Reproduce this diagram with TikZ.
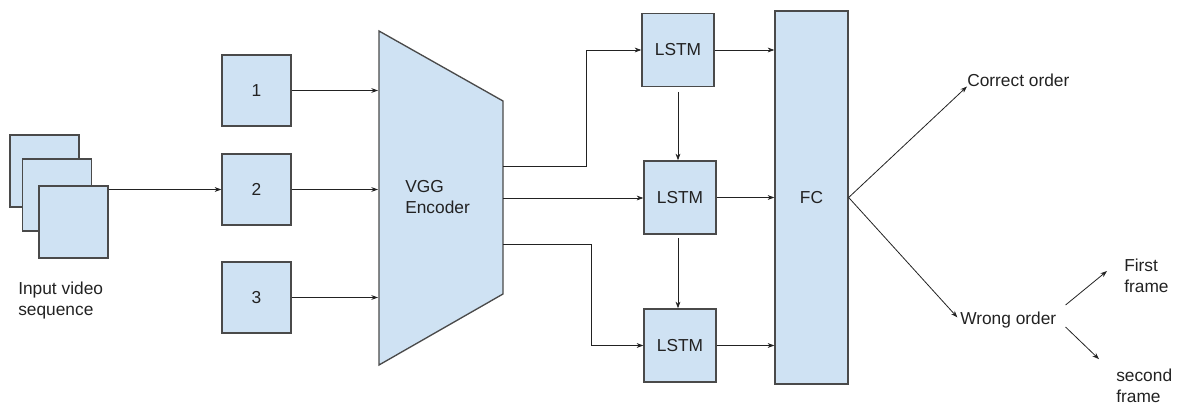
\documentclass[tikz,border=0pt]{standalone}
\usepackage{fontspec}
\setmainfont{Liberation Sans}
\usetikzlibrary{arrows.meta}
\definecolor{boxfill}{HTML}{CFE2F3}
\definecolor{boxline}{HTML}{4A4A4A}
\definecolor{ink}{HTML}{222222}
\begin{document}
\begin{tikzpicture}[x=0.75pt,y=-0.75pt,
  txt/.style={font=\fontsize{13}{15.75}\selectfont,text=ink},
  box/.style={draw=boxline,fill=boxfill,line width=1pt,inner sep=0pt,txt},
  frame/.style={box,minimum width=51.75pt,minimum height=54pt},
  numbox/.style={box,minimum width=51.75pt,minimum height=53.25pt},
  lstm/.style={box,minimum width=54pt,minimum height=54.75pt},
  lbl/.style={inner sep=0pt,align=left,txt},
  arr/.style={-{Stealth[length=5pt,width=3.6pt]},line width=0.6pt,ink},
  ln/.style={line width=0.6pt,ink}]
\useasboundingbox (0,0) rectangle (1179,410);
% input stack
\node[frame] (f1) at (44.5,171) {};
\node[frame] (f2) at (57,195) {};
\node[frame] (f3) at (73.5,222) {};
\node[lbl,anchor=north west] (inp) at (18,281.5) {Input video\\sequence};
% frames
\node[numbox] (b1) at (256.5,90.5) {1};
\node[numbox] (b2) at (256.5,189.5) {2};
\node[numbox] (b3) at (256.5,297.5) {3};
% encoder
\draw[draw=boxline,fill=boxfill,line width=1pt] (379,31) -- (503,101) -- (503,294) -- (379,365) -- cycle;
\node[lbl,anchor=west] (enc) at (405,197.5) {VGG\\Encoder};
\coordinate (encL) at (378,0);
\coordinate (o1) at (503,166);
\coordinate (o2) at (503,198);
\coordinate (o3) at (503,244);
% LSTMs and FC
\node[lstm] (l1) at (678,50) {LSTM};
\node[lstm] (l2) at (680,197.5) {LSTM};
\node[lstm] (l3) at (680,345.5) {LSTM};
\node[box,minimum width=54.75pt,minimum height=279.75pt] (fc) at (811.5,197.5) {FC};
% outputs
\node[lbl,anchor=base west] (correct) at (967,86.5) {Correct order};
\node[lbl,anchor=base west] (wrong) at (960,324.5) {Wrong order};
\node[lbl,anchor=north west] (first) at (1124,258.5) {First\\frame};
\node[lbl,anchor=north west] (second) at (1116,368.5) {second\\frame};
% connectors
\draw[arr] (f3.east |- b2.west) -- (b2.west);
\draw[arr] (b1.east) -- (b1.east -| encL);
\draw[arr] (b2.east) -- (b2.east -| encL);
\draw[arr] (b3.east) -- (b3.east -| encL);
\draw[arr] (o1) -- ++(83,0) |- (l1.west);
\draw[arr] (o2) -- (o2 -| l2.west);
\draw[arr] (o3) -- ++(88,0) |- (l3.west);
\draw[arr] (l1.east) -- (l1.east -| fc.west);
\draw[arr] (l2.east) -- (l2.east -| fc.west);
\draw[arr] (l3.east) -- (l3.east -| fc.west);
\draw[arr,shorten <=3.5pt] (l1.south) -- (l1.south |- l2.north);
\draw[arr,shorten <=2.5pt] (l1.south |- l2.south) -- (l1.south |- l3.north);
\draw[arr] (fc.east) -- (correct.base west);
\draw[arr] (fc.east) -- ([xshift=-2pt,yshift=2pt]wrong.west);
\draw[arr] ([xshift=6.75pt,yshift=11.25pt]wrong.east) -- ([xshift=-12.75pt,yshift=-9.4pt]first.north west);
\draw[arr] ([xshift=6.75pt,yshift=-5.25pt]wrong.east) -- ([xshift=-12.75pt,yshift=7pt]second.north west);
\end{tikzpicture}
\end{document}
